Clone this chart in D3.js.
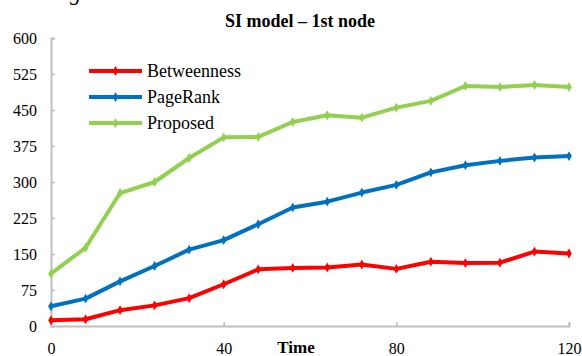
<!DOCTYPE html>
<html>
<head>
<meta charset="utf-8">
<script src="https://cdn.jsdelivr.net/npm/d3@7"></script>
<style>
  html, body { margin: 0; padding: 0; background: #fff; }
  svg { display: block; }
  svg text { font-family: "Liberation Serif", "Times New Roman", "DejaVu Serif", serif; }
</style>
</head>
<body>
<svg id="chart" width="582" height="356"></svg>
<script>
// Simulation time steps
const times = [0, 8, 16, 24, 32, 40, 48, 56, 64, 72, 80, 88, 96, 104, 112, 120];

// Infected nodes per method
const betweenness = [12, 14, 33, 43, 58, 87, 118, 121, 122, 128, 119, 134, 131, 132, 155, 151];
const pagerank    = [41, 57, 93, 125, 159, 179, 212, 247, 259, 278, 294, 320, 335, 344, 351, 354];
const proposed    = [109, 163, 277, 300, 350, 393, 394, 425, 439, 434, 455, 469, 500, 498, 502, 498];

const seriesNames = ["Betweenness", "PageRank", "Proposed"];
const seriesColors = ["#ff0000", "#0070c0", "#92d050"];
const xTicks = [0, 40, 80, 120];
const yTicks = [0, 75, 150, 225, 300, 375, 450, 525, 600];

const series = [betweenness, pagerank, proposed].map((vals, i) => ({
  name: seriesNames[i],
  color: seriesColors[i],
  points: vals.map((v, j) => ({ t: times[j], v }))
}));

const svg = d3.select("#chart");
const plotLeft = 51, plotRight = 569, plotTop = 38, plotBottom = 326;

const x = d3.scaleLinear().domain([0, 120]).range([plotLeft, plotRight]);
const y = d3.scaleLinear().domain([0, 600]).range([plotBottom, plotTop]);

const axisColor = "#bfbfbf";

// Fragment of the caption above the chart
svg.append("text")
  .attr("x", 70).attr("y", 0)
  .attr("font-size", 22).attr("font-style", "italic")
  .text("g");

// Title
svg.append("text")
  .attr("x", 300).attr("y", 27)
  .attr("text-anchor", "middle")
  .attr("font-size", 18).attr("font-weight", "bold")
  .text("SI model – 1st node");

// Y axis
const yAxis = svg.append("g")
  .attr("transform", `translate(${plotLeft},0)`)
  .call(d3.axisLeft(y).tickValues(yTicks).tickSize(-4).tickPadding(14));
yAxis.attr("font-family", null);
yAxis.select(".domain").attr("stroke", axisColor).attr("stroke-width", 2);
yAxis.selectAll(".tick line").attr("stroke", axisColor).attr("stroke-width", 1.5);
yAxis.selectAll(".tick text")
  .attr("font-size", 16).attr("fill", "#000");

// X axis
const xAxis = svg.append("g")
  .attr("transform", `translate(0,${plotBottom})`)
  .call(d3.axisBottom(x).tickValues(xTicks).tickSize(-4).tickPadding(17));
xAxis.attr("font-family", null);
xAxis.select(".domain").attr("stroke", axisColor).attr("stroke-width", 2);
xAxis.selectAll(".tick line").attr("stroke", axisColor).attr("stroke-width", 1.5);
xAxis.selectAll(".tick text")
  .attr("font-size", 16).attr("fill", "#000");

// X axis title
svg.append("text")
  .attr("x", 296).attr("y", 353)
  .attr("text-anchor", "middle")
  .attr("font-size", 17).attr("font-weight", "bold")
  .text("Time");

// Lines with markers
const line = d3.line().x(d => x(d.t)).y(d => y(d.v));
const marker = d3.symbol().type(d3.symbolDiamond).size(28);

series.forEach(s => {
  svg.append("path")
    .datum(s.points)
    .attr("fill", "none")
    .attr("stroke", s.color)
    .attr("stroke-width", 4)
    .attr("stroke-linejoin", "round")
    .attr("d", line);
  svg.append("g").selectAll("path")
    .data(s.points)
    .join("path")
    .attr("transform", d => `translate(${x(d.t)},${y(d.v)})`)
    .attr("d", marker)
    .attr("fill", s.color);
});

// Legend
const legend = svg.append("g");
series.forEach((s, i) => {
  const ly = 71 + i * 26;
  legend.append("line")
    .attr("x1", 89).attr("x2", 142)
    .attr("y1", ly).attr("y2", ly)
    .attr("stroke", s.color).attr("stroke-width", 4);
  legend.append("path")
    .attr("transform", `translate(115.5,${ly})`)
    .attr("d", marker)
    .attr("fill", s.color);
  legend.append("text")
    .attr("x", 147).attr("y", ly + 6)
    .attr("font-size", 18)
    .text(s.name);
});
</script>
</body>
</html>
